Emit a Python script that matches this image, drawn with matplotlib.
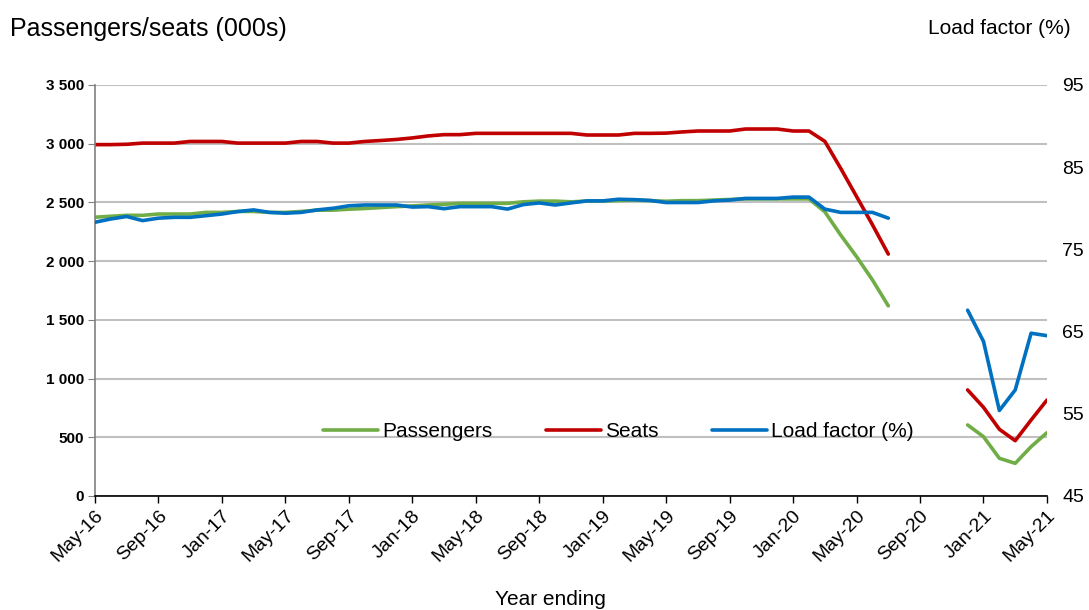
import numpy as np
import matplotlib

matplotlib.use("Agg")
import matplotlib.pyplot as plt
from matplotlib.ticker import FuncFormatter

plt.rcParams["font.family"] = ["Liberation Sans", "DejaVu Sans"]

nan = np.nan

# monthly, May-16 .. May-21 (Aug-20 to Nov-20 missing)
seats = [
    2992, 2992, 2995, 3005, 3005, 3005, 3019, 3019, 3019, 3005,
    3005, 3005, 3005, 3019, 3019, 3005, 3005, 3019, 3027, 3036,
    3049, 3066, 3077, 3077, 3088, 3088, 3088, 3088, 3088, 3088,
    3088, 3074, 3074, 3074, 3088, 3088, 3090, 3100, 3108, 3108,
    3108, 3125, 3125, 3125, 3108, 3108, 3020, 2790, 2550, 2310,
    2060, nan, nan, nan, nan, 903, 755, 568, 471, 647,
    817,
]
passengers = [
    2374, 2382, 2390, 2390, 2401, 2401, 2401, 2415, 2415, 2423,
    2423, 2415, 2415, 2423, 2434, 2434, 2442, 2448, 2456, 2464,
    2470, 2478, 2484, 2492, 2492, 2492, 2492, 2505, 2511, 2511,
    2505, 2511, 2511, 2516, 2520, 2515, 2510, 2515, 2515, 2520,
    2525, 2530, 2530, 2530, 2530, 2530, 2420, 2222, 2038, 1840,
    1619, nan, nan, nan, nan, 605, 505, 321, 278, 420,
    539,
]
load_factor = [
    78.3, 78.7, 79.0, 78.5, 78.8, 78.9, 78.9, 79.1, 79.3, 79.6,
    79.8, 79.5, 79.4, 79.5, 79.8, 80.0, 80.3, 80.4, 80.4, 80.4,
    80.15, 80.2, 79.95, 80.2, 80.2, 80.2, 79.9, 80.45, 80.65, 80.4,
    80.65, 80.9, 80.9, 81.1, 81.05, 80.95, 80.7, 80.7, 80.7, 80.9,
    81.0, 81.2, 81.2, 81.2, 81.36, 81.36, 79.9, 79.5, 79.5, 79.5,
    78.8, nan, nan, nan, nan, 67.6, 63.8, 55.4, 57.9, 64.8,
    64.5,
]
tick_labels = [
    "May-16", "Sep-16", "Jan-17", "May-17", "Sep-17", "Jan-18", "May-18", "Sep-18",
    "Jan-19", "May-19", "Sep-19", "Jan-20", "May-20", "Sep-20", "Jan-21", "May-21",
]

GREEN = "#70AD47"
RED = "#C00000"
BLUE = "#0070C0"

x = np.arange(len(seats))

fig = plt.figure(figsize=(10.89, 6.10), dpi=100)
ax = fig.add_axes([0.0872, 0.1869, 0.8742, 0.6738])
ax2 = ax.twinx()

l1, = ax.plot(x, passengers, color=GREEN, lw=2.6, label="Passengers", solid_capstyle="round")
l2, = ax.plot(x, seats, color=RED, lw=2.6, label="Seats", solid_capstyle="round")
l3, = ax2.plot(x, load_factor, color=BLUE, lw=2.6, label="Load factor (%)", solid_capstyle="round")

ax.set_xlim(0, len(seats) - 1)
ax.set_ylim(0, 3500)
ax.set_yticks(np.arange(0, 3501, 500))
ax.yaxis.set_major_formatter(FuncFormatter(lambda v, p: f"{int(v):,}".replace(",", " ")))
for lab in ax.get_yticklabels():
    lab.set_fontweight("bold")
ax.tick_params(axis="y", labelsize=11, length=5, color="#808080", pad=3)
ax.grid(axis="y", color="#c0c0c0", lw=1.5)
ax.set_axisbelow(True)

ax.set_xticks(np.arange(0, len(seats), 4))
ax.set_xticklabels(tick_labels, rotation=45, ha="right", rotation_mode="anchor", fontsize=14)
ax.tick_params(axis="x", length=5, width=1, color="black", pad=3)

ax2.set_ylim(45, 95)
ax2.set_yticks(np.arange(45, 96, 10))
ax2.tick_params(axis="y", labelsize=14, length=0, pad=11)

for a in (ax, ax2):
    a.spines["top"].set_visible(False)
    a.spines["right"].set_visible(False)
ax2.spines["left"].set_visible(False)
ax2.spines["bottom"].set_visible(False)
ax.spines["left"].set_color("#808080")
ax.spines["left"].set_linewidth(1.2)
ax.spines["bottom"].set_color("black")
ax.spines["bottom"].set_linewidth(1.2)

ax.legend(handles=[l1, l2, l3], loc="center", bbox_to_anchor=(0.55, 0.156), ncol=3,
          frameon=False, fontsize=15, handlelength=2.65, handletextpad=0.2, columnspacing=2.55)

fig.text(0.009, 0.953, "Passengers/seats (000s)", fontsize=18, va="center", ha="left")
fig.text(0.983, 0.953, "Load factor (%)", fontsize=15, va="center", ha="right")
fig.text(0.505, 0.018, "Year ending", fontsize=15, va="center", ha="center")

fig.savefig("out.png", dpi=100)
